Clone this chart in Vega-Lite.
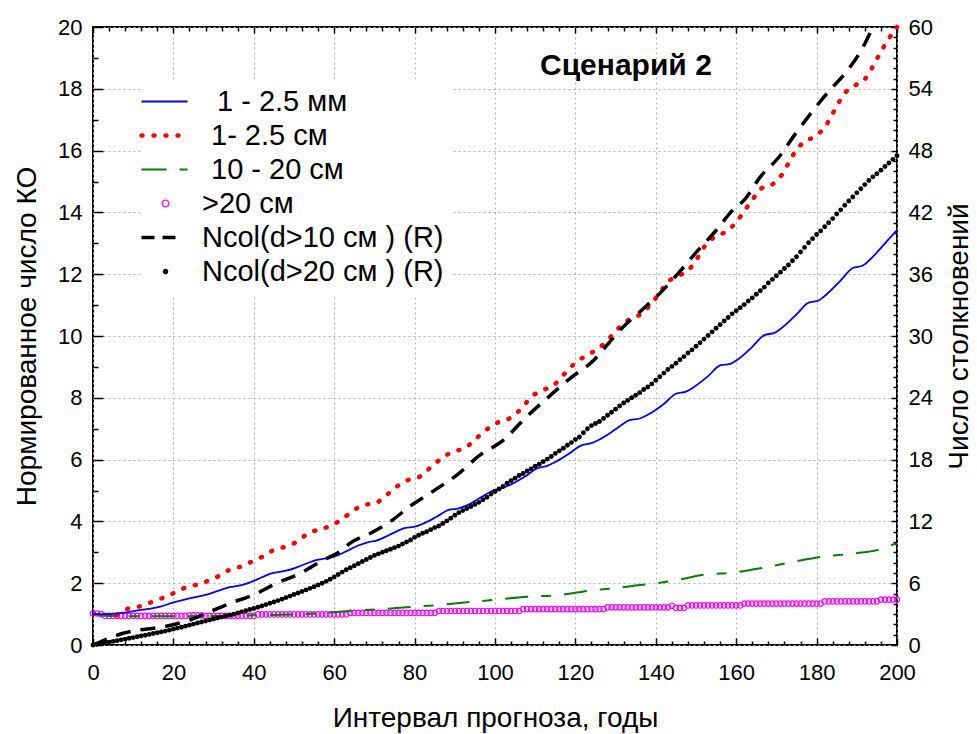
{
"$schema": "https://vega.github.io/schema/vega-lite/v6.json",
"width": 804, "height": 618,
"autosize": "none",
"padding": {"left": 93, "top": 27, "right": 80, "bottom": 89},
"config": {
  "font": "Liberation Sans",
  "view": {"stroke": "black", "strokeWidth": 2},
  "axis": {"domain": false, "labelFlush": false, "labelOverlap": false, "labelFontSize": 22, "labelColor": "black", "titleFontSize": 28, "titleFontWeight": "normal", "titleColor": "black", "tickColor": "black", "tickWidth": 1.5, "grid": false, "gridColor": "#b0b0b0", "gridDash": [2, 3], "gridWidth": 1}
},
"title": {"text": "Сценарий 2", "anchor": "start", "frame": "group", "fontSize": 30, "fontWeight": "bold", "color": "black", "dx": 447, "dy": 89, "offset": 0, "baseline": "alphabetic"},
"datasets": {"all": [
{"s":"b","t":0,"v":1.0},{"s":"b","t":4,"v":1.0},{"s":"b","t":8,"v":1.05},{"s":"b","t":11.5,"v":1.13},{"s":"b","t":14,"v":1.17},{"s":"b","t":17,"v":1.25},{"s":"b","t":20,"v":1.38},{"s":"b","t":23,"v":1.48},{"s":"b","t":25.5,"v":1.55},{"s":"b","t":28,"v":1.62},{"s":"b","t":31,"v":1.75},{"s":"b","t":34,"v":1.87},{"s":"b","t":36,"v":1.91},{"s":"b","t":38,"v":1.98},{"s":"b","t":41,"v":2.13},{"s":"b","t":44,"v":2.3},{"s":"b","t":46,"v":2.36},{"s":"b","t":48.5,"v":2.42},{"s":"b","t":52,"v":2.58},{"s":"b","t":55.5,"v":2.75},{"s":"b","t":58,"v":2.8},{"s":"b","t":60,"v":2.86},{"s":"b","t":62.5,"v":3.0},{"s":"b","t":66,"v":3.22},{"s":"b","t":68.5,"v":3.33},{"s":"b","t":70.5,"v":3.38},{"s":"b","t":74,"v":3.58},{"s":"b","t":77.5,"v":3.78},{"s":"b","t":80,"v":3.83},{"s":"b","t":82,"v":3.92},{"s":"b","t":85.5,"v":4.15},{"s":"b","t":88.5,"v":4.37},{"s":"b","t":91,"v":4.42},{"s":"b","t":93,"v":4.52},{"s":"b","t":96.5,"v":4.78},{"s":"b","t":99.5,"v":5.0},{"s":"b","t":102,"v":5.08},{"s":"b","t":104,"v":5.2},{"s":"b","t":107.5,"v":5.45},{"s":"b","t":110.5,"v":5.72},{"s":"b","t":113,"v":5.8},{"s":"b","t":115,"v":5.92},{"s":"b","t":118.5,"v":6.2},{"s":"b","t":121.5,"v":6.46},{"s":"b","t":124,"v":6.53},{"s":"b","t":126,"v":6.65},{"s":"b","t":130,"v":6.98},{"s":"b","t":133.5,"v":7.28},{"s":"b","t":136,"v":7.33},{"s":"b","t":138,"v":7.45},{"s":"b","t":142,"v":7.8},{"s":"b","t":145,"v":8.13},{"s":"b","t":147.5,"v":8.2},{"s":"b","t":149.5,"v":8.35},{"s":"b","t":153,"v":8.7},{"s":"b","t":156,"v":9.05},{"s":"b","t":158.5,"v":9.1},{"s":"b","t":160.5,"v":9.25},{"s":"b","t":164,"v":9.65},{"s":"b","t":167,"v":10.03},{"s":"b","t":169.5,"v":10.1},{"s":"b","t":171.5,"v":10.28},{"s":"b","t":175,"v":10.7},{"s":"b","t":178,"v":11.08},{"s":"b","t":180.5,"v":11.15},{"s":"b","t":182.5,"v":11.35},{"s":"b","t":186,"v":11.8},{"s":"b","t":189,"v":12.2},{"s":"b","t":191.5,"v":12.28},{"s":"b","t":193.5,"v":12.5},{"s":"b","t":197,"v":13.0},{"s":"b","t":200,"v":13.43},
{"s":"r","t":5.9,"v":0.97},{"s":"r","t":8.4,"v":1.16},{"s":"r","t":11.3,"v":1.24},{"s":"r","t":14.2,"v":1.37},{"s":"r","t":17.1,"v":1.51},{"s":"r","t":19.6,"v":1.65},{"s":"r","t":22.5,"v":1.83},{"s":"r","t":25.4,"v":1.94},{"s":"r","t":28.1,"v":2.05},{"s":"r","t":31,"v":2.21},{"s":"r","t":33.9,"v":2.43},{"s":"r","t":36.6,"v":2.53},{"s":"r","t":39.5,"v":2.7},{"s":"r","t":42.2,"v":2.86},{"s":"r","t":44.9,"v":3.07},{"s":"r","t":47.8,"v":3.18},{"s":"r","t":50.7,"v":3.34},{"s":"r","t":53.3,"v":3.59},{"s":"r","t":56.2,"v":3.74},{"s":"r","t":59,"v":3.85},{"s":"r","t":61.9,"v":4.07},{"s":"r","t":64.4,"v":4.31},{"s":"r","t":67.2,"v":4.53},{"s":"r","t":70.1,"v":4.58},{"s":"r","t":73,"v":4.85},{"s":"r","t":75.5,"v":5.12},{"s":"r","t":78.4,"v":5.34},{"s":"r","t":81.3,"v":5.45},{"s":"r","t":84.2,"v":5.77},{"s":"r","t":86.7,"v":6.04},{"s":"r","t":89.6,"v":6.26},{"s":"r","t":92.5,"v":6.37},{"s":"r","t":95.4,"v":6.69},{"s":"r","t":98.3,"v":7.01},{"s":"r","t":101.2,"v":7.23},{"s":"r","t":103.7,"v":7.34},{"s":"r","t":106.6,"v":7.66},{"s":"r","t":109.1,"v":8.04},{"s":"r","t":112,"v":8.25},{"s":"r","t":114.7,"v":8.42},{"s":"r","t":117.4,"v":8.79},{"s":"r","t":119.4,"v":9.06},{"s":"r","t":122.8,"v":9.38},{"s":"r","t":125.3,"v":9.55},{"s":"r","t":128.2,"v":9.89},{"s":"r","t":130.7,"v":10.25},{"s":"r","t":133,"v":10.5},{"s":"r","t":135.3,"v":10.63},{"s":"r","t":138.6,"v":11.0},{"s":"r","t":141,"v":11.4},{"s":"r","t":143.1,"v":11.76},{"s":"r","t":145.6,"v":11.94},{"s":"r","t":148.5,"v":12.19},{"s":"r","t":150.3,"v":12.51},{"s":"r","t":152.2,"v":12.91},{"s":"r","t":155,"v":13.24},{"s":"r","t":157.6,"v":13.38},{"s":"r","t":160.1,"v":13.7},{"s":"r","t":162.2,"v":14.08},{"s":"r","t":164.3,"v":14.46},{"s":"r","t":166.3,"v":14.78},{"s":"r","t":168.8,"v":14.89},{"s":"r","t":171.3,"v":15.21},{"s":"r","t":173,"v":15.59},{"s":"r","t":174.6,"v":15.95},{"s":"r","t":176.9,"v":16.28},{"s":"r","t":179.6,"v":16.46},{"s":"r","t":182.1,"v":16.77},{"s":"r","t":183.8,"v":17.15},{"s":"r","t":185.4,"v":17.53},{"s":"r","t":187.1,"v":17.87},{"s":"r","t":189.3,"v":18.09},{"s":"r","t":192,"v":18.31},{"s":"r","t":193.7,"v":18.66},{"s":"r","t":195.4,"v":19.06},{"s":"r","t":197,"v":19.42},{"s":"r","t":198.9,"v":19.8},{"s":"r","t":200,"v":20.0},
{"s":"g","t":0,"v":1.0},{"s":"g","t":3,"v":0.95},{"s":"g","t":10,"v":0.93},{"s":"g","t":20,"v":0.93},{"s":"g","t":30,"v":0.94},{"s":"g","t":40,"v":0.96},{"s":"g","t":50,"v":0.99},{"s":"g","t":57,"v":1.03},{"s":"g","t":63.5,"v":1.1},{"s":"g","t":69,"v":1.14},{"s":"g","t":74.7,"v":1.19},{"s":"g","t":79.7,"v":1.24},{"s":"g","t":85.5,"v":1.29},{"s":"g","t":90.5,"v":1.35},{"s":"g","t":99.6,"v":1.46},{"s":"g","t":107.9,"v":1.56},{"s":"g","t":116.2,"v":1.62},{"s":"g","t":124,"v":1.77},{"s":"g","t":129.4,"v":1.83},{"s":"g","t":136.1,"v":1.94},{"s":"g","t":140.2,"v":2.0},{"s":"g","t":145.2,"v":2.1},{"s":"g","t":151.8,"v":2.27},{"s":"g","t":159.7,"v":2.35},{"s":"g","t":166.7,"v":2.5},{"s":"g","t":174.6,"v":2.7},{"s":"g","t":181.7,"v":2.86},{"s":"g","t":190,"v":2.97},{"s":"g","t":195,"v":3.07},{"s":"g","t":199.5,"v":3.27},{"s":"g","t":200,"v":3.28},
{"s":"k10","t":0,"v":0},{"s":"k10","t":0.9,"v":0.15},{"s":"k10","t":7.5,"v":1.14},{"s":"k10","t":18.3,"v":1.83},{"s":"k10","t":24.1,"v":2.43},{"s":"k10","t":29.1,"v":3.24},{"s":"k10","t":34.1,"v":4.05},{"s":"k10","t":39.9,"v":4.86},{"s":"k10","t":45.7,"v":6.0},{"s":"k10","t":51.5,"v":6.96},{"s":"k10","t":57.3,"v":8.25},{"s":"k10","t":61.4,"v":9.06},{"s":"k10","t":63.9,"v":9.87},{"s":"k10","t":68.9,"v":10.83},{"s":"k10","t":73.9,"v":11.97},{"s":"k10","t":79.3,"v":13.59},{"s":"k10","t":85.1,"v":15.06},{"s":"k10","t":90.5,"v":16.5},{"s":"k10","t":96.3,"v":18.45},{"s":"k10","t":102.1,"v":19.89},{"s":"k10","t":107.5,"v":22.02},{"s":"k10","t":112.9,"v":23.94},{"s":"k10","t":118.7,"v":25.89},{"s":"k10","t":124.6,"v":27.66},{"s":"k10","t":128.6,"v":29.46},{"s":"k10","t":131.1,"v":30.57},{"s":"k10","t":136.1,"v":32.37},{"s":"k10","t":141,"v":34.14},{"s":"k10","t":145.2,"v":35.91},{"s":"k10","t":150.2,"v":38.19},{"s":"k10","t":155.1,"v":40.29},{"s":"k10","t":159.5,"v":42.39},{"s":"k10","t":162,"v":43.2},{"s":"k10","t":166,"v":45.45},{"s":"k10","t":170.7,"v":47.4},{"s":"k10","t":174.5,"v":49.5},{"s":"k10","t":179.2,"v":51.93},{"s":"k10","t":183.3,"v":53.88},{"s":"k10","t":187.1,"v":55.5},{"s":"k10","t":191.6,"v":58.08},{"s":"k10","t":194,"v":60},
{"s":"m","t":0,"v":1.02},{"s":"m","t":1,"v":1.02},{"s":"m","t":2,"v":1.0},{"s":"m","t":3,"v":0.94},{"s":"m","t":4,"v":0.94},{"s":"m","t":5,"v":0.94},{"s":"m","t":6,"v":0.94},{"s":"m","t":7,"v":0.94},{"s":"m","t":8,"v":0.94},{"s":"m","t":9,"v":0.94},{"s":"m","t":10,"v":0.94},{"s":"m","t":11,"v":0.94},{"s":"m","t":12,"v":0.94},{"s":"m","t":13,"v":0.94},{"s":"m","t":14,"v":0.94},{"s":"m","t":15,"v":0.94},{"s":"m","t":16,"v":0.94},{"s":"m","t":17,"v":0.94},{"s":"m","t":18,"v":0.94},{"s":"m","t":19,"v":0.94},{"s":"m","t":20,"v":0.94},{"s":"m","t":21,"v":0.94},{"s":"m","t":22,"v":0.94},{"s":"m","t":23,"v":0.94},{"s":"m","t":24,"v":0.96},{"s":"m","t":25,"v":0.96},{"s":"m","t":26,"v":0.96},{"s":"m","t":27,"v":0.96},{"s":"m","t":28,"v":0.94},{"s":"m","t":29,"v":0.94},{"s":"m","t":30,"v":0.94},{"s":"m","t":31,"v":0.94},{"s":"m","t":32,"v":0.94},{"s":"m","t":33,"v":0.94},{"s":"m","t":34,"v":0.94},{"s":"m","t":35,"v":0.94},{"s":"m","t":36,"v":0.94},{"s":"m","t":37,"v":0.94},{"s":"m","t":38,"v":0.94},{"s":"m","t":39,"v":0.94},{"s":"m","t":40,"v":0.94},{"s":"m","t":41,"v":0.99},{"s":"m","t":42,"v":0.99},{"s":"m","t":43,"v":0.99},{"s":"m","t":44,"v":0.99},{"s":"m","t":45,"v":0.99},{"s":"m","t":46,"v":0.99},{"s":"m","t":47,"v":0.99},{"s":"m","t":48,"v":0.99},{"s":"m","t":49,"v":0.99},{"s":"m","t":50,"v":0.99},{"s":"m","t":51,"v":0.99},{"s":"m","t":52,"v":0.99},{"s":"m","t":53,"v":0.99},{"s":"m","t":54,"v":0.99},{"s":"m","t":55,"v":0.99},{"s":"m","t":56,"v":0.99},{"s":"m","t":57,"v":0.99},{"s":"m","t":58,"v":0.99},{"s":"m","t":59,"v":0.99},{"s":"m","t":60,"v":0.99},{"s":"m","t":61,"v":0.99},{"s":"m","t":62,"v":0.99},{"s":"m","t":63,"v":0.99},{"s":"m","t":64,"v":1.04},{"s":"m","t":65,"v":1.04},{"s":"m","t":66,"v":1.04},{"s":"m","t":67,"v":1.04},{"s":"m","t":68,"v":1.04},{"s":"m","t":69,"v":1.04},{"s":"m","t":70,"v":1.04},{"s":"m","t":71,"v":1.04},{"s":"m","t":72,"v":1.04},{"s":"m","t":73,"v":1.04},{"s":"m","t":74,"v":1.04},{"s":"m","t":75,"v":1.04},{"s":"m","t":76,"v":1.04},{"s":"m","t":77,"v":1.04},{"s":"m","t":78,"v":1.04},{"s":"m","t":79,"v":1.04},{"s":"m","t":80,"v":1.04},{"s":"m","t":81,"v":1.04},{"s":"m","t":82,"v":1.04},{"s":"m","t":83,"v":1.04},{"s":"m","t":84,"v":1.04},{"s":"m","t":85,"v":1.04},{"s":"m","t":86,"v":1.1},{"s":"m","t":87,"v":1.1},{"s":"m","t":88,"v":1.1},{"s":"m","t":89,"v":1.1},{"s":"m","t":90,"v":1.1},{"s":"m","t":91,"v":1.1},{"s":"m","t":92,"v":1.1},{"s":"m","t":93,"v":1.1},{"s":"m","t":94,"v":1.1},{"s":"m","t":95,"v":1.1},{"s":"m","t":96,"v":1.1},{"s":"m","t":97,"v":1.1},{"s":"m","t":98,"v":1.1},{"s":"m","t":99,"v":1.1},{"s":"m","t":100,"v":1.1},{"s":"m","t":101,"v":1.1},{"s":"m","t":102,"v":1.1},{"s":"m","t":103,"v":1.1},{"s":"m","t":104,"v":1.1},{"s":"m","t":105,"v":1.1},{"s":"m","t":106,"v":1.1},{"s":"m","t":107,"v":1.16},{"s":"m","t":108,"v":1.16},{"s":"m","t":109,"v":1.16},{"s":"m","t":110,"v":1.16},{"s":"m","t":111,"v":1.16},{"s":"m","t":112,"v":1.16},{"s":"m","t":113,"v":1.16},{"s":"m","t":114,"v":1.16},{"s":"m","t":115,"v":1.16},{"s":"m","t":116,"v":1.16},{"s":"m","t":117,"v":1.16},{"s":"m","t":118,"v":1.16},{"s":"m","t":119,"v":1.16},{"s":"m","t":120,"v":1.16},{"s":"m","t":121,"v":1.16},{"s":"m","t":122,"v":1.16},{"s":"m","t":123,"v":1.16},{"s":"m","t":124,"v":1.16},{"s":"m","t":125,"v":1.16},{"s":"m","t":126,"v":1.16},{"s":"m","t":127,"v":1.16},{"s":"m","t":128,"v":1.22},{"s":"m","t":129,"v":1.22},{"s":"m","t":130,"v":1.22},{"s":"m","t":131,"v":1.22},{"s":"m","t":132,"v":1.22},{"s":"m","t":133,"v":1.22},{"s":"m","t":134,"v":1.22},{"s":"m","t":135,"v":1.22},{"s":"m","t":136,"v":1.22},{"s":"m","t":137,"v":1.22},{"s":"m","t":138,"v":1.22},{"s":"m","t":139,"v":1.22},{"s":"m","t":140,"v":1.22},{"s":"m","t":141,"v":1.22},{"s":"m","t":142,"v":1.22},{"s":"m","t":143,"v":1.22},{"s":"m","t":144,"v":1.27},{"s":"m","t":145,"v":1.2},{"s":"m","t":146,"v":1.2},{"s":"m","t":147,"v":1.2},{"s":"m","t":148,"v":1.28},{"s":"m","t":149,"v":1.28},{"s":"m","t":150,"v":1.28},{"s":"m","t":151,"v":1.28},{"s":"m","t":152,"v":1.28},{"s":"m","t":153,"v":1.28},{"s":"m","t":154,"v":1.28},{"s":"m","t":155,"v":1.28},{"s":"m","t":156,"v":1.28},{"s":"m","t":157,"v":1.28},{"s":"m","t":158,"v":1.28},{"s":"m","t":159,"v":1.28},{"s":"m","t":160,"v":1.28},{"s":"m","t":161,"v":1.28},{"s":"m","t":162,"v":1.34},{"s":"m","t":163,"v":1.34},{"s":"m","t":164,"v":1.34},{"s":"m","t":165,"v":1.34},{"s":"m","t":166,"v":1.34},{"s":"m","t":167,"v":1.34},{"s":"m","t":168,"v":1.34},{"s":"m","t":169,"v":1.34},{"s":"m","t":170,"v":1.34},{"s":"m","t":171,"v":1.34},{"s":"m","t":172,"v":1.34},{"s":"m","t":173,"v":1.34},{"s":"m","t":174,"v":1.34},{"s":"m","t":175,"v":1.34},{"s":"m","t":176,"v":1.34},{"s":"m","t":177,"v":1.34},{"s":"m","t":178,"v":1.34},{"s":"m","t":179,"v":1.34},{"s":"m","t":180,"v":1.34},{"s":"m","t":181,"v":1.34},{"s":"m","t":182,"v":1.41},{"s":"m","t":183,"v":1.41},{"s":"m","t":184,"v":1.41},{"s":"m","t":185,"v":1.41},{"s":"m","t":186,"v":1.41},{"s":"m","t":187,"v":1.41},{"s":"m","t":188,"v":1.41},{"s":"m","t":189,"v":1.41},{"s":"m","t":190,"v":1.41},{"s":"m","t":191,"v":1.41},{"s":"m","t":192,"v":1.41},{"s":"m","t":193,"v":1.41},{"s":"m","t":194,"v":1.41},{"s":"m","t":195,"v":1.41},{"s":"m","t":196,"v":1.47},{"s":"m","t":197,"v":1.47},{"s":"m","t":198,"v":1.47},{"s":"m","t":199,"v":1.47},{"s":"m","t":200,"v":1.47},
{"s":"k20","t":0,"v":0.0},{"s":"k20","t":1,"v":0.07},{"s":"k20","t":2,"v":0.14},{"s":"k20","t":3,"v":0.21},{"s":"k20","t":4,"v":0.28},{"s":"k20","t":5,"v":0.35},{"s":"k20","t":6,"v":0.42},{"s":"k20","t":7,"v":0.5},{"s":"k20","t":8,"v":0.57},{"s":"k20","t":9,"v":0.65},{"s":"k20","t":10,"v":0.72},{"s":"k20","t":11,"v":0.8},{"s":"k20","t":12,"v":0.87},{"s":"k20","t":13,"v":0.95},{"s":"k20","t":14,"v":1.03},{"s":"k20","t":15,"v":1.11},{"s":"k20","t":16,"v":1.19},{"s":"k20","t":17,"v":1.27},{"s":"k20","t":18,"v":1.35},{"s":"k20","t":19,"v":1.44},{"s":"k20","t":20,"v":1.54},{"s":"k20","t":21,"v":1.64},{"s":"k20","t":22,"v":1.73},{"s":"k20","t":23,"v":1.83},{"s":"k20","t":24,"v":1.93},{"s":"k20","t":25,"v":2.03},{"s":"k20","t":26,"v":2.13},{"s":"k20","t":27,"v":2.23},{"s":"k20","t":28,"v":2.33},{"s":"k20","t":29,"v":2.43},{"s":"k20","t":30,"v":2.52},{"s":"k20","t":31,"v":2.62},{"s":"k20","t":32,"v":2.71},{"s":"k20","t":33,"v":2.81},{"s":"k20","t":34,"v":2.9},{"s":"k20","t":35,"v":3.0},{"s":"k20","t":36,"v":3.11},{"s":"k20","t":37,"v":3.22},{"s":"k20","t":38,"v":3.33},{"s":"k20","t":39,"v":3.44},{"s":"k20","t":40,"v":3.55},{"s":"k20","t":41,"v":3.66},{"s":"k20","t":42,"v":3.79},{"s":"k20","t":43,"v":3.92},{"s":"k20","t":44,"v":4.05},{"s":"k20","t":45,"v":4.18},{"s":"k20","t":46,"v":4.31},{"s":"k20","t":47,"v":4.45},{"s":"k20","t":48,"v":4.6},{"s":"k20","t":49,"v":4.75},{"s":"k20","t":50,"v":4.9},{"s":"k20","t":51,"v":5.05},{"s":"k20","t":52,"v":5.2},{"s":"k20","t":53,"v":5.35},{"s":"k20","t":54,"v":5.5},{"s":"k20","t":55,"v":5.66},{"s":"k20","t":56,"v":5.83},{"s":"k20","t":57,"v":6.0},{"s":"k20","t":58,"v":6.18},{"s":"k20","t":59,"v":6.38},{"s":"k20","t":60,"v":6.6},{"s":"k20","t":61,"v":6.85},{"s":"k20","t":62,"v":7.08},{"s":"k20","t":63,"v":7.3},{"s":"k20","t":64,"v":7.5},{"s":"k20","t":65,"v":7.7},{"s":"k20","t":66,"v":7.9},{"s":"k20","t":67,"v":8.1},{"s":"k20","t":68,"v":8.3},{"s":"k20","t":69,"v":8.5},{"s":"k20","t":70,"v":8.7},{"s":"k20","t":71,"v":8.85},{"s":"k20","t":72,"v":9.0},{"s":"k20","t":73,"v":9.15},{"s":"k20","t":74,"v":9.3},{"s":"k20","t":75,"v":9.45},{"s":"k20","t":76,"v":9.6},{"s":"k20","t":77,"v":9.8},{"s":"k20","t":78,"v":10.0},{"s":"k20","t":79,"v":10.2},{"s":"k20","t":80,"v":10.45},{"s":"k20","t":81,"v":10.65},{"s":"k20","t":82,"v":10.85},{"s":"k20","t":83,"v":11.0},{"s":"k20","t":84,"v":11.2},{"s":"k20","t":85,"v":11.4},{"s":"k20","t":86,"v":11.55},{"s":"k20","t":87,"v":11.8},{"s":"k20","t":88,"v":12.05},{"s":"k20","t":89,"v":12.3},{"s":"k20","t":90,"v":12.6},{"s":"k20","t":91,"v":12.85},{"s":"k20","t":92,"v":13.05},{"s":"k20","t":93,"v":13.25},{"s":"k20","t":94,"v":13.45},{"s":"k20","t":95,"v":13.65},{"s":"k20","t":96,"v":13.85},{"s":"k20","t":97,"v":14.1},{"s":"k20","t":98,"v":14.35},{"s":"k20","t":99,"v":14.65},{"s":"k20","t":100,"v":14.9},{"s":"k20","t":101,"v":15.15},{"s":"k20","t":102,"v":15.4},{"s":"k20","t":103,"v":15.7},{"s":"k20","t":104,"v":15.95},{"s":"k20","t":105,"v":16.2},{"s":"k20","t":106,"v":16.45},{"s":"k20","t":107,"v":16.65},{"s":"k20","t":108,"v":16.9},{"s":"k20","t":109,"v":17.1},{"s":"k20","t":110,"v":17.35},{"s":"k20","t":111,"v":17.55},{"s":"k20","t":112,"v":17.8},{"s":"k20","t":113,"v":18.05},{"s":"k20","t":114,"v":18.3},{"s":"k20","t":115,"v":18.6},{"s":"k20","t":116,"v":18.85},{"s":"k20","t":117,"v":19.1},{"s":"k20","t":118,"v":19.4},{"s":"k20","t":119,"v":19.65},{"s":"k20","t":120,"v":19.95},{"s":"k20","t":121,"v":20.2},{"s":"k20","t":122,"v":20.6},{"s":"k20","t":123,"v":21.0},{"s":"k20","t":124,"v":21.3},{"s":"k20","t":125,"v":21.5},{"s":"k20","t":126,"v":21.7},{"s":"k20","t":127,"v":22.0},{"s":"k20","t":128,"v":22.3},{"s":"k20","t":129,"v":22.6},{"s":"k20","t":130,"v":22.9},{"s":"k20","t":131,"v":23.2},{"s":"k20","t":132,"v":23.5},{"s":"k20","t":133,"v":23.75},{"s":"k20","t":134,"v":24.0},{"s":"k20","t":135,"v":24.25},{"s":"k20","t":136,"v":24.5},{"s":"k20","t":137,"v":24.8},{"s":"k20","t":138,"v":25.05},{"s":"k20","t":139,"v":25.35},{"s":"k20","t":140,"v":25.7},{"s":"k20","t":141,"v":26.05},{"s":"k20","t":142,"v":26.4},{"s":"k20","t":143,"v":26.75},{"s":"k20","t":144,"v":27.05},{"s":"k20","t":145,"v":27.35},{"s":"k20","t":146,"v":27.7},{"s":"k20","t":147,"v":28.0},{"s":"k20","t":148,"v":28.35},{"s":"k20","t":149,"v":28.65},{"s":"k20","t":150,"v":29.0},{"s":"k20","t":151,"v":29.35},{"s":"k20","t":152,"v":29.7},{"s":"k20","t":153,"v":30.05},{"s":"k20","t":154,"v":30.4},{"s":"k20","t":155,"v":30.75},{"s":"k20","t":156,"v":31.1},{"s":"k20","t":157,"v":31.45},{"s":"k20","t":158,"v":31.8},{"s":"k20","t":159,"v":32.15},{"s":"k20","t":160,"v":32.45},{"s":"k20","t":161,"v":32.75},{"s":"k20","t":162,"v":33.05},{"s":"k20","t":163,"v":33.4},{"s":"k20","t":164,"v":33.7},{"s":"k20","t":165,"v":34.05},{"s":"k20","t":166,"v":34.4},{"s":"k20","t":167,"v":34.75},{"s":"k20","t":168,"v":35.15},{"s":"k20","t":169,"v":35.5},{"s":"k20","t":170,"v":35.85},{"s":"k20","t":171,"v":36.2},{"s":"k20","t":172,"v":36.55},{"s":"k20","t":173,"v":36.9},{"s":"k20","t":174,"v":37.3},{"s":"k20","t":175,"v":37.7},{"s":"k20","t":176,"v":38.15},{"s":"k20","t":177,"v":38.6},{"s":"k20","t":178,"v":39.05},{"s":"k20","t":179,"v":39.45},{"s":"k20","t":180,"v":39.85},{"s":"k20","t":181,"v":40.2},{"s":"k20","t":182,"v":40.6},{"s":"k20","t":183,"v":41.0},{"s":"k20","t":184,"v":41.4},{"s":"k20","t":185,"v":41.85},{"s":"k20","t":186,"v":42.25},{"s":"k20","t":187,"v":42.7},{"s":"k20","t":188,"v":43.1},{"s":"k20","t":189,"v":43.5},{"s":"k20","t":190,"v":43.9},{"s":"k20","t":191,"v":44.3},{"s":"k20","t":192,"v":44.7},{"s":"k20","t":193,"v":45.1},{"s":"k20","t":194,"v":45.45},{"s":"k20","t":195,"v":45.75},{"s":"k20","t":196,"v":46.1},{"s":"k20","t":197,"v":46.45},{"s":"k20","t":198,"v":46.8},{"s":"k20","t":199,"v":47.15},{"s":"k20","t":200,"v":47.5}
]},
"data": {"name": "all"},
"encoding": {
  "color": {"field": "s", "type": "nominal",
    "scale": {"domain": ["b", "r", "g", "m", "k10", "k20"], "range": ["#0000ff", "#ff0000", "#008000", "#ff00ff", "#000000", "#000000"]},
    "legend": {
      "orient": "none", "legendX": 50, "legendY": 52, "title": null, "direction": "vertical",
      "fillColor": "white", "padding": 8, "symbolSize": 2304, "labelFontSize": 29, "labelColor": "black", "labelLimit": 500, "labelOffset": 22, "rowPadding": 4,
      "labelExpr": "datum.value==='b' ? '1 - 2.5 мм' : datum.value==='r' ? '1- 2.5 см' : datum.value==='g' ? '10 - 20 см' : datum.value==='m' ? '>20 см' : datum.value==='k10' ? 'Ncol(d>10 см ) (R)' : 'Ncol(d>20 см ) (R)'",
      "encode": {
        "labels": {"update": {"dx": {"signal": "datum.value==='b' ? 15 : (datum.value==='r' || datum.value==='g') ? 9 : 0"}}},
        "symbols": {"update": {
        "shape": {"signal": "datum.value==='m' ? 'M-0.14,0A0.14,0.14,0,1,1,0.14,0A0.14,0.14,0,1,1,-0.14,0Z' : datum.value==='k20' ? 'M-0.09,0A0.09,0.09,0,1,1,0.09,0A0.09,0.09,0,1,1,-0.09,0Z' : datum.value==='r' ? 'M-1,0L0.55,0' : datum.value==='k10' ? 'M-1,0L0.42,0' : 'M-1,0L0.92,0'"},
        "stroke": {"signal": "datum.value==='b' ? '#0000ff' : datum.value==='r' ? '#ff0000' : datum.value==='g' ? '#008000' : datum.value==='m' ? '#ff00ff' : '#000000'"},
        "fill": {"signal": "datum.value==='k20' ? '#000000' : '#ffffff'"},
        "fillOpacity": {"signal": "datum.value==='k20' ? 1 : 0"},
        "strokeDash": {"signal": "datum.value==='r' ? [1, 11] : datum.value==='g' ? [25, 13, 8, 13] : datum.value==='k10' ? [13, 8] : [1, 0]"},
        "strokeWidth": {"signal": "datum.value==='r' ? 4.5 : datum.value==='k10' ? 3.5 : datum.value==='b' ? 1.8 : datum.value==='g' ? 2 : 1.2"},
        "strokeCap": {"signal": "datum.value==='r' ? 'round' : 'butt'"},
        "opacity": {"value": 1}
      }}}
    }
  }
},
"layer": [
  {
    "encoding": {
      "x": {"field": "t", "type": "quantitative", "scale": {"domain": [0, 200], "nice": false},
        "axis": {"orient": "bottom", "values": [0,20,40,60,80,100,120,140,160,180,200], "grid": true, "tickSize": -7, "labelPadding": 24, "title": "Интервал прогноза, годы", "titlePadding": 21}},
      "y": {"field": "v", "type": "quantitative", "scale": {"domain": [0, 20], "nice": false},
        "axis": {"orient": "left", "values": [0,2,4,6,8,10,12,14,16,18,20], "grid": true, "tickSize": -10, "labelPadding": 21, "title": "Нормированное число КО", "titlePadding": 16}}
    },
    "layer": [
      {"transform": [{"filter": "datum.s==='m'"}], "mark": {"type": "point", "shape": "circle", "filled": false, "size": 30, "strokeWidth": 1.2, "opacity": 1}},
      {"transform": [{"filter": "datum.s==='g'"}], "mark": {"type": "line", "interpolate": "monotone", "strokeWidth": 2, "strokeDash": [23, 13, 10, 13]}},
      {"transform": [{"filter": "datum.s==='r'"}], "mark": {"type": "line", "interpolate": "monotone", "strokeWidth": 4.5, "strokeDash": [1, 11], "strokeCap": "round"}},
      {"transform": [{"filter": "datum.s==='b'"}], "mark": {"type": "line", "interpolate": "monotone", "strokeWidth": 1.8}}
    ]
  },
  {
    "encoding": {
      "x": {"field": "t", "type": "quantitative", "scale": {"domain": [0, 200], "nice": false},
        "axis": {"orient": "top", "values": [0,20,40,60,80,100,120,140,160,180,200], "grid": false, "tickSize": -6, "labels": false, "title": null}},
      "y": {"field": "v", "type": "quantitative", "scale": {"domain": [0, 60], "nice": false},
        "axis": {"orient": "right", "values": [0,6,12,18,24,30,36,42,48,54,60], "grid": false, "tickSize": -6, "labelPadding": 17, "title": "Число столкновений", "titleAngle": -90, "titleBaseline": "top", "titlePadding": 13}}
    },
    "layer": [
      {"transform": [{"filter": "datum.s==='k10'"}], "mark": {"type": "line", "interpolate": "monotone", "strokeWidth": 3.5, "strokeDash": [15, 10], "clip": true}},
      {"transform": [{"filter": "datum.s==='k20'"}], "mark": {"type": "point", "shape": "circle", "filled": true, "size": 24, "opacity": 1}}
    ]
  },
  {
    "transform": [{"filter": "datum.s==='m'"}],
    "mark": {"type": "point", "opacity": 0},
    "encoding": {
      "x": {"field": "t", "type": "quantitative", "scale": {"domain": [0, 200], "nice": false},
        "axis": {"orient": "bottom", "values": [4,8,12,16,24,28,32,36,44,48,52,56,64,68,72,76,84,88,92,96,104,108,112,116,124,128,132,136,144,148,152,156,164,168,172,176,184,188,192,196], "grid": false, "tickSize": -4, "labels": false, "title": null}},
      "y": {"field": "v", "type": "quantitative", "scale": {"domain": [0, 20], "nice": false},
        "axis": {"orient": "left", "values": [1,3,5,7,9,11,13,15,17,19], "grid": false, "tickSize": -5, "labels": false, "title": null}}
    }
  },
  {
    "transform": [{"filter": "datum.s==='k20'"}],
    "mark": {"type": "point", "opacity": 0},
    "encoding": {
      "x": {"field": "t", "type": "quantitative", "scale": {"domain": [0, 200], "nice": false},
        "axis": {"orient": "top", "values": [4,8,12,16,24,28,32,36,44,48,52,56,64,68,72,76,84,88,92,96,104,108,112,116,124,128,132,136,144,148,152,156,164,168,172,176,184,188,192,196], "grid": false, "tickSize": -4, "labels": false, "title": null}},
      "y": {"field": "v", "type": "quantitative", "scale": {"domain": [0, 60], "nice": false},
        "axis": {"orient": "right", "values": [1,2,3,4,5,7,8,9,10,11,13,14,15,16,17,19,20,21,22,23,25,26,27,28,29,31,32,33,34,35,37,38,39,40,41,43,44,45,46,47,49,50,51,52,53,55,56,57,58,59], "grid": false, "tickSize": -4, "labels": false, "title": null}}
    }
  }
],
"resolve": {"scale": {"y": "independent"}, "axis": {"x": "independent", "y": "independent"}}
}
